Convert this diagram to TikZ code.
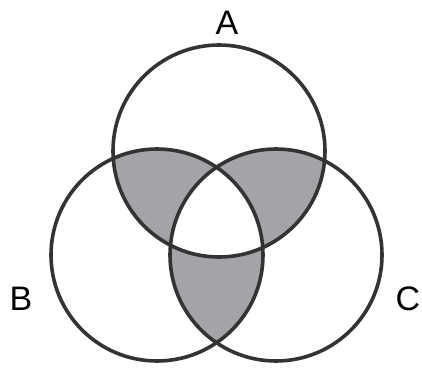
\documentclass[tikz,border=0pt]{standalone}
\usepackage{fontspec}
\setmainfont{Liberation Sans}
\definecolor{venngray}{RGB}{163,163,168}

\begin{document}
\begin{tikzpicture}[x=1pt, y=1pt, every node/.style={font=\fontsize{34}{34}\selectfont}]
\useasboundingbox (0,0) rectangle (422,370);

\def\rad{106}
\coordinate (cA) at (219,219);
\coordinate (cB) at (157,115);
\coordinate (cC) at (276,115);

% pairwise overlaps
\begin{scope}
\clip (cA) circle (\rad);
\fill[venngray] (cB) circle (\rad);
\fill[venngray] (cC) circle (\rad);
\end{scope}
\begin{scope}
\clip (cB) circle (\rad);
\fill[venngray] (cC) circle (\rad);
\end{scope}
% middle part stays white
\begin{scope}
\clip (cA) circle (\rad);
\clip (cB) circle (\rad);
\fill[white] (cC) circle (\rad);
\end{scope}

\draw[line width=3.6, black!80] (cA) circle (\rad);
\draw[line width=3.6, black!80] (cB) circle (\rad);
\draw[line width=3.6, black!80] (cC) circle (\rad);

\node (labA) at (227,347) {A};
\node (labB) at (21,71) {B};
\node (labC) at (408,71) {C};

\end{tikzpicture}
\end{document}
